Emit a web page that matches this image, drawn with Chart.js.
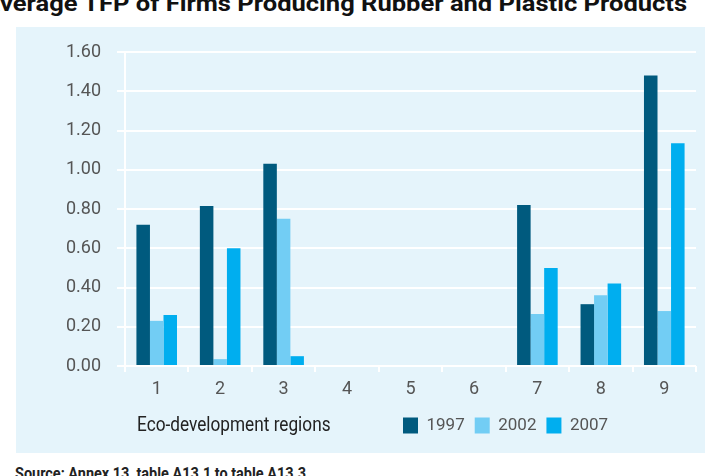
<!DOCTYPE html>
<html>
<head>
<meta charset="utf-8">
<script src="https://cdn.jsdelivr.net/npm/chart.js@4.4.1/dist/chart.umd.min.js"></script>
<style>
  html, body { margin: 0; padding: 0; width: 714px; height: 476px; overflow: hidden; background: #fff; }
  body { position: relative; font-family: Roboto, sans-serif; }
  #title { position: absolute; left: 0; top: -9px; white-space: nowrap; font-weight: bold; font-size: 22px; color: #111; transform-origin: 0 0; transform: scaleX(1.16); }
  #title .cut { position: absolute; right: 100%; }
  #panel { position: absolute; left: 16px; top: 27px; width: 689px; height: 426px; background: #e5f4fb; }
  #axisName { position: absolute; left: 137px; top: 412px; font-size: 21px; color: #222; transform-origin: 0 0; transform: scaleX(0.82); white-space: nowrap; }
  #source { position: absolute; left: 15px; top: 463px; font-size: 17px; font-weight: bold; color: #222; white-space: nowrap; transform-origin: 0 0; transform: scaleX(0.85); }
</style>
</head>
<body>
<div id="title"><span class="cut">A</span>verage TFP of Firms Producing Rubber and Plastic Products</div>
<div id="panel"><canvas id="chart" width="689" height="426"></canvas></div>
<div id="axisName">Eco-development regions</div>
<div id="source">Source: Annex 13, table A13.1 to table A13.3</div>
<script>
// Dados
const regioes = ['1', '2', '3', '4', '5', '6', '7', '8', '9'];
const anos = ['1997', '2002', '2007'];
const tfp1997 = [0.72, 0.815, 1.03, null, null, null, 0.82, 0.315, 1.48];
const tfp2002 = [0.23, 0.035, 0.75, null, null, null, 0.265, 0.36, 0.28];
const tfp2007 = [0.26, 0.60, 0.05, null, null, null, 0.50, 0.42, 1.135];
const cores = ['#005a7e', '#72cdf4', '#00aeef'];

const fonte = 'Roboto, sans-serif';

// Legenda começa à direita do texto "Eco-development regions"
const moverLegenda = {
    id: 'moverLegenda',
    afterLayout(chart) {
        chart.legend.left = 377;
    }
};

new Chart(document.getElementById('chart'), {
    type: 'bar',
    data: {
        labels: regioes,
        datasets: [tfp1997, tfp2002, tfp2007].map((valores, i) => ({
            label: anos[i],
            data: valores,
            backgroundColor: cores[i],
            categoryPercentage: 0.64,
            barPercentage: 1.0
        }))
    },
    options: {
        responsive: false,
        animation: false,
        maintainAspectRatio: false,
        layout: { padding: { top: 15, right: 9, left: 0, bottom: 9 } },
        plugins: {
            tooltip: { enabled: false },
            legend: {
                position: 'bottom',
                align: 'start',
                labels: {
                    boxWidth: 15,
                    boxHeight: 16,
                    padding: 10,
                    color: '#555',
                    font: { family: fonte, size: 17 }
                }
            }
        },
        scales: {
            x: {
                grid: { drawOnChartArea: false, drawTicks: true, tickLength: 6, color: '#fff', lineWidth: 2 },
                border: { display: false },
                ticks: { color: '#555', padding: 7, font: { family: fonte, size: 18 } },
                afterFit: scale => { scale.height = 41; }
            },
            y: {
                min: 0,
                max: 1.6,
                ticks: {
                    stepSize: 0.2,
                    color: '#555',
                    padding: 16,
                    font: { family: fonte, size: 18, lineHeight: 1.0 },
                    callback: v => v.toFixed(2)
                },
                grid: { color: '#fff', lineWidth: 2, tickLength: 8 },
                border: { color: '#fff', width: 2 },
                afterFit: scale => { scale.width = 109; }
            }
        }
    },
    plugins: [moverLegenda]
});
</script>
</body>
</html>
